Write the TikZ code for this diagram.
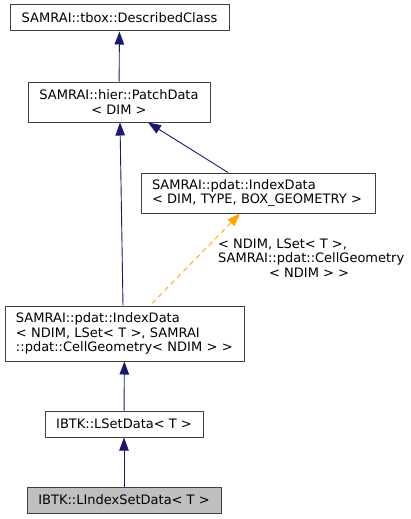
\documentclass[tikz,border=0pt]{standalone}
\usepackage{fontspec}
\setmainfont{DejaVu Sans}
\usetikzlibrary{arrows.meta}
\definecolor{inhblue}{HTML}{191970}
\definecolor{tplorange}{HTML}{FFA500}

\begin{document}
\begin{tikzpicture}
[x=1pt,y={(0pt,-1pt)},
 cls/.style={draw=black!75,line width=1pt,fill=white,font=\fontsize{13}{14.7}\selectfont,
    inner ysep=2pt,align=center},
 lcls/.style={cls,align=left,inner xsep=11pt},
 inh/.style={draw=inhblue,line width=0.9pt,{Triangle[length=13pt,width=9.5pt]}-},
 tpl/.style={draw=tplorange,line width=0.9pt,dash pattern=on 5pt off 4pt,
    {Triangle[length=13pt,width=9.5pt]}-},
 lbl/.style={font=\fontsize{13}{14.7}\selectfont,align=left,inner sep=0pt}]
\useasboundingbox (0,0) rectangle (411,519);

\node[cls,minimum width=219pt,minimum height=26pt] (dc) at (119.5,18)
{SAMRAI::tbox::DescribedClass};
\node[cls,minimum width=182pt,minimum height=40pt] (pd) at (119,102)
{SAMRAI::hier::PatchData\\< DIM >};
\node[lcls,text width=212pt,minimum height=40pt] (idg) at (258,193)
{SAMRAI::pdat::IndexData\\< DIM, TYPE, BOX\_GEOMETRY >};
\node[lcls,text width=217pt,minimum height=55pt] (ids) at (124.5,333.5)
{SAMRAI::pdat::IndexData\\< NDIM, LSet< T >, SAMRAI\\::pdat::CellGeometry< NDIM > >};
\node[cls,minimum width=158pt,minimum height=26pt] (lsd) at (124,424)
{IBTK::LSetData< T >};
\node[cls,fill=black!25,minimum width=194pt,minimum height=26pt] (lisd) at (124,500)
{IBTK::LIndexSetData< T >};

\node[lbl,anchor=west] (tpllbl) at (218,258)
{< NDIM, LSet< T >,\\SAMRAI::pdat::CellGeometry\\\hspace*{51pt}< NDIM > >};

\draw [inh] (dc) -- (pd);
\draw [inh] ([xshift=1pt]pd.south) -- ([xshift=-1.5pt]ids.north);
\draw [inh] ([xshift=29pt]pd.south) -- ([xshift=-30pt]idg.north);
\draw [tpl] ([xshift=-18pt]idg.south) -- ([xshift=25.5pt]ids.north);
\draw [inh] (ids) -- (lsd);
\draw [inh] (lsd) -- (lisd);
\end{tikzpicture}
\end{document}
